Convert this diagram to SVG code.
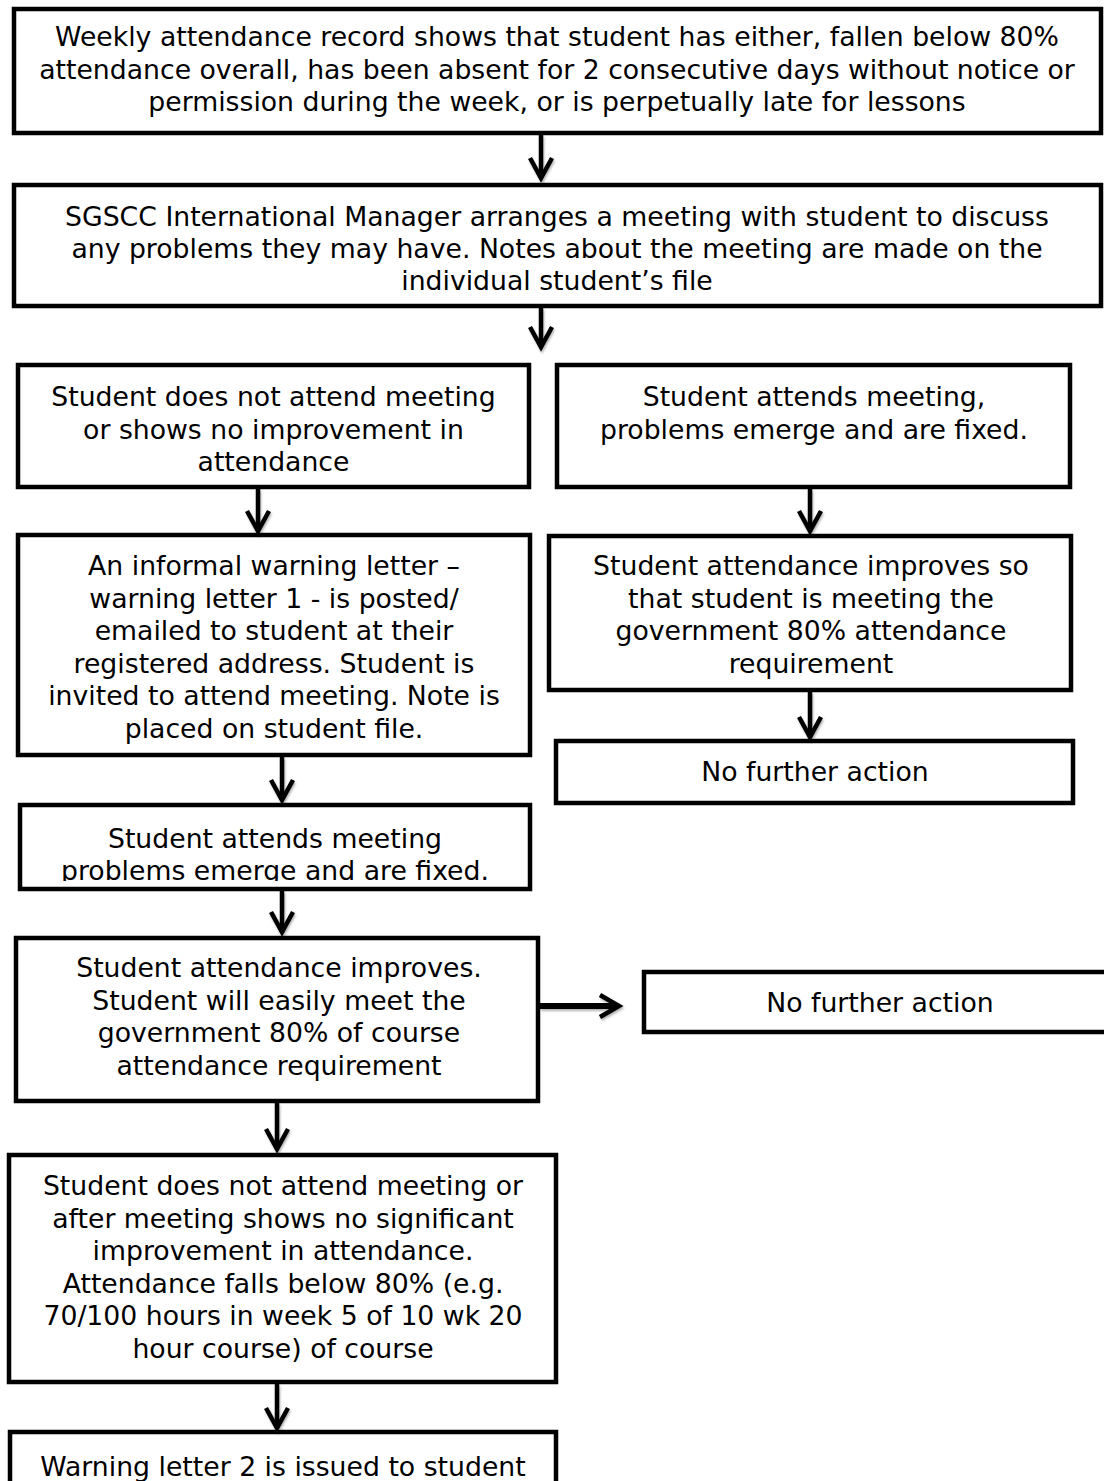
<svg xmlns="http://www.w3.org/2000/svg" width="1104" height="1481" viewBox="0 0 1104 1481">
<style>
.box{fill:#fff;stroke:#000;stroke-width:4.5}
.t{font-family:"DejaVu Sans",Verdana,sans-serif;font-size:26.7px;fill:#000;text-anchor:middle}
.c line,.c polyline{stroke:#000;stroke-width:4.5;fill:none;stroke-linejoin:miter}
</style>
<defs>
<filter id="sh" x="-50%" y="-50%" width="200%" height="200%">
<feDropShadow dx="1" dy="2" stdDeviation="1.2" flood-color="#000" flood-opacity="0.3"/>
</filter>
<clipPath id="clip8"><rect x="20" y="805" width="510" height="76"/></clipPath>
</defs>
<rect width="1104" height="1481" fill="#fff"/>

<g id="n1"><rect class="box" x="14" y="9" width="1087" height="124"/>
<text class="t"><tspan x="557" y="46">Weekly attendance record shows that student has either, fallen below 80%</tspan><tspan x="557" y="78.5">attendance overall, has been absent for 2 consecutive days without notice or</tspan><tspan x="557" y="111">permission during the week, or is perpetually late for lessons</tspan></text></g>

<g id="n2"><rect class="box" x="14" y="185" width="1087" height="121"/>
<text class="t"><tspan x="557" y="226">SGSCC International Manager arranges a meeting with student to discuss</tspan><tspan x="557" y="258">any problems they may have. Notes about the meeting are made on the</tspan><tspan x="557" y="290">individual student’s file</tspan></text></g>

<g id="n3"><rect class="box" x="18" y="365" width="511" height="122"/>
<text class="t"><tspan x="273.5" y="406">Student does not attend meeting</tspan><tspan x="273.5" y="438.5">or shows no improvement in</tspan><tspan x="273.5" y="471">attendance</tspan></text></g>

<g id="n4"><rect class="box" x="557" y="365" width="513" height="122"/>
<text class="t"><tspan x="814" y="406">Student attends meeting,</tspan><tspan x="814" y="438.5">problems emerge and are fixed.</tspan></text></g>

<g id="n5"><rect class="box" x="18" y="535" width="512" height="220"/>
<text class="t"><tspan x="274" y="575">An informal warning letter –</tspan><tspan x="274" y="607.5">warning letter 1 - is posted/</tspan><tspan x="274" y="640">emailed to student at their</tspan><tspan x="274" y="672.5">registered address. Student is</tspan><tspan x="274" y="705">invited to attend meeting. Note is</tspan><tspan x="274" y="737.5">placed on student file.</tspan></text></g>

<g id="n6"><rect class="box" x="549" y="536" width="522" height="154"/>
<text class="t"><tspan x="811" y="575">Student attendance improves so</tspan><tspan x="811" y="607.5">that student is meeting the</tspan><tspan x="811" y="640">government 80% attendance</tspan><tspan x="811" y="672.5">requirement</tspan></text></g>

<g id="n7"><rect class="box" x="556" y="741" width="517" height="62"/>
<text class="t" x="815" y="781">No further action</text></g>

<g id="n8"><rect class="box" x="20" y="805" width="510" height="84"/>
<text class="t" clip-path="url(#clip8)"><tspan x="275" y="848">Student attends meeting</tspan><tspan x="275" y="880">problems emerge and are fixed.</tspan></text></g>

<g id="n9"><rect class="box" x="16" y="938" width="522" height="163"/>
<text class="t"><tspan x="279" y="977">Student attendance improves.</tspan><tspan x="279" y="1009.5">Student will easily meet the</tspan><tspan x="279" y="1042">government 80% of course</tspan><tspan x="279" y="1074.5">attendance requirement</tspan></text></g>

<g id="n10"><rect class="box" x="644" y="972" width="472" height="60"/>
<text class="t" x="880" y="1012">No further action</text></g>

<g id="n11"><rect class="box" x="9" y="1155" width="547" height="227"/>
<text class="t"><tspan x="283" y="1195">Student does not attend meeting or</tspan><tspan x="283" y="1227.5">after meeting shows no significant</tspan><tspan x="283" y="1260">improvement in attendance.</tspan><tspan x="283" y="1292.5">Attendance falls below 80% (e.g.</tspan><tspan x="283" y="1325">70/100 hours in week 5 of 10 wk 20</tspan><tspan x="283" y="1357.5">hour course) of course</tspan></text></g>

<g id="n12"><rect class="box" x="10" y="1432" width="546" height="80"/>
<text class="t" x="283" y="1476">Warning letter 2 is issued to student</text></g>

<g id="connectors" class="c" filter="url(#sh)">
<line x1="541" y1="135" x2="541" y2="178"/><polyline points="530,158 541,178 552,158"/>
<line x1="541" y1="308" x2="541" y2="347"/><polyline points="530,327 541,347 552,327"/>
<line x1="258" y1="489" x2="258" y2="531"/><polyline points="247,511 258,531 269,511"/>
<line x1="810" y1="489" x2="810" y2="531"/><polyline points="799,511 810,531 821,511"/>
<line x1="810" y1="692" x2="810" y2="737"/><polyline points="799,717 810,737 821,717"/>
<line x1="282" y1="757" x2="282" y2="800"/><polyline points="271,780 282,800 293,780"/>
<line x1="282" y1="891" x2="282" y2="932"/><polyline points="271,912 282,932 293,912"/>
<line x1="277" y1="1103" x2="277" y2="1149"/><polyline points="266,1129 277,1149 288,1129"/>
<line x1="277" y1="1384" x2="277" y2="1428"/><polyline points="266,1408 277,1428 288,1408"/>
<line x1="540" y1="1006" x2="618" y2="1006" style="stroke-width:6"/><polyline points="600,995 619,1006 600,1017"/>
</g>
</svg>
